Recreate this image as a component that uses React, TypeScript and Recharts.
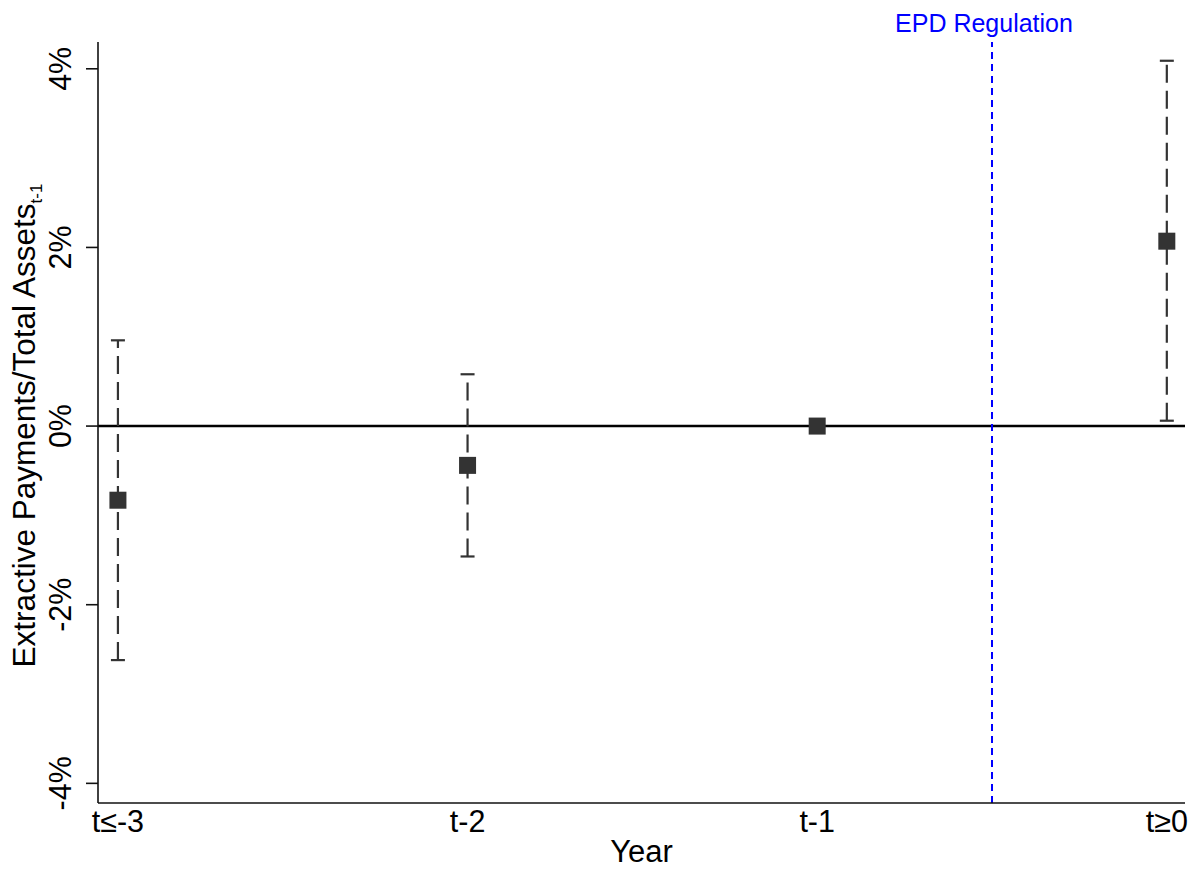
import React from 'react';
import { ScatterChart, Scatter, XAxis, YAxis, ErrorBar, ReferenceLine } from 'recharts';

const categories = ['t≤-3', 't-2', 't-1', 't≥0'];
const estimates = [-0.83, -0.44, 0, 2.07];
const ciLow = [-2.62, -1.46, 0, 0.06];
const ciHigh = [0.96, 0.58, 0, 4.09];
const yTicks = [-4, -2, 0, 2, 4];
const xTicks = [0, 1, 2, 3];
const eventLineX = 2.5;
const eventLabel = 'EPD Regulation';
const yTitle = 'Extractive Payments/Total Assets';
const yTitleSub = 't-1';
const xTitle = 'Year';

const FONT = '"Liberation Sans", Arial, Helvetica, sans-serif';
const DARK = '#333333';

const data = categories.map((c, i) => ({
  x: i,
  y: estimates[i],
  err: [estimates[i] - ciLow[i], ciHigh[i] - estimates[i]],
}));

const YTick = (props: any) => {
  const { x, y, payload } = props;
  const bx = x - 13;
  return (
    <text
      x={bx}
      y={y}
      transform={`rotate(-90, ${bx}, ${y})`}
      textAnchor="middle"
      fontSize={30.5}
      fontFamily={FONT}
      fill="#000"
    >
      {`${payload.value}%`}
    </text>
  );
};

const XTick = (props: any) => {
  const { x, y, payload } = props;
  return (
    <text x={x} y={y + 21} textAnchor="middle" fontSize={30.5} fontFamily={FONT} fill="#000">
      {categories[payload.value]}
    </text>
  );
};

const Square = (props: any) => {
  const { cx, cy } = props;
  return <rect x={cx - 8.5} y={cy - 8.5} width={17} height={17} fill={DARK} />;
};

export default function App() {
  return (
    <div style={{ position: 'absolute', left: 0, top: 0, width: 1191, height: 870, background: '#fff', fontFamily: FONT }}>
      <ScatterChart width={1191} height={870} margin={{ top: 42, right: 6, bottom: 0, left: 0 }}>
        <XAxis
          type="number"
          dataKey="x"
          domain={[-0.057, 3.052]}
          ticks={xTicks}
          tickLine={false}
          tick={<XTick />}
          height={67}
          axisLine={{ stroke: '#111', strokeWidth: 1.6 }}
          allowDataOverflow
          label={{
            content: (p: any) => {
              const vb = p.viewBox;
              return (
                <text x={vb.x + vb.width / 2} y={vb.y + 59} textAnchor="middle" fontSize={31} fontFamily={FONT} fill="#000">
                  {xTitle}
                </text>
              );
            },
          }}
        />
        <YAxis
          type="number"
          dataKey="y"
          domain={[-4.22, 4.3]}
          ticks={yTicks}
          tickSize={12}
          tickLine={{ stroke: '#111', strokeWidth: 1.6 }}
          axisLine={{ stroke: '#111', strokeWidth: 1.6 }}
          tick={<YTick />}
          width={98}
          allowDataOverflow
          label={{
            content: (p: any) => {
              const vb = p.viewBox;
              const cy = vb.y + vb.height / 2 + 3;
              const bx = 35;
              return (
                <text
                  x={bx}
                  y={cy}
                  transform={`rotate(-90, ${bx}, ${cy})`}
                  textAnchor="middle"
                  fontSize={31.5}
                  fontFamily={FONT}
                  fill="#000"
                >
                  {yTitle}
                  <tspan fontSize={17} dy={7}>{yTitleSub}</tspan>
                </text>
              );
            },
          }}
        />
        <ReferenceLine y={0} stroke="#000" strokeWidth={2.5} />
        <ReferenceLine
          x={eventLineX}
          stroke="#0000ff"
          strokeWidth={2}
          strokeDasharray="7 5"
          label={{
            content: (p: any) => {
              const vb = p.viewBox;
              return (
                <text x={vb.x - 8} y={vb.y - 10} textAnchor="middle" fontSize={25} fontFamily={FONT} fill="#0000ff">
                  {eventLabel}
                </text>
              );
            },
          }}
        />
        <Scatter data={data} shape={<Square />} isAnimationActive={false}>
          <ErrorBar
            dataKey="err"
            direction="y"
            width={7}
            stroke={DARK}
            strokeWidth={2.2}
            strokeDasharray="18 8"
            isAnimationActive={false}
          />
        </Scatter>
      </ScatterChart>
    </div>
  );
}
